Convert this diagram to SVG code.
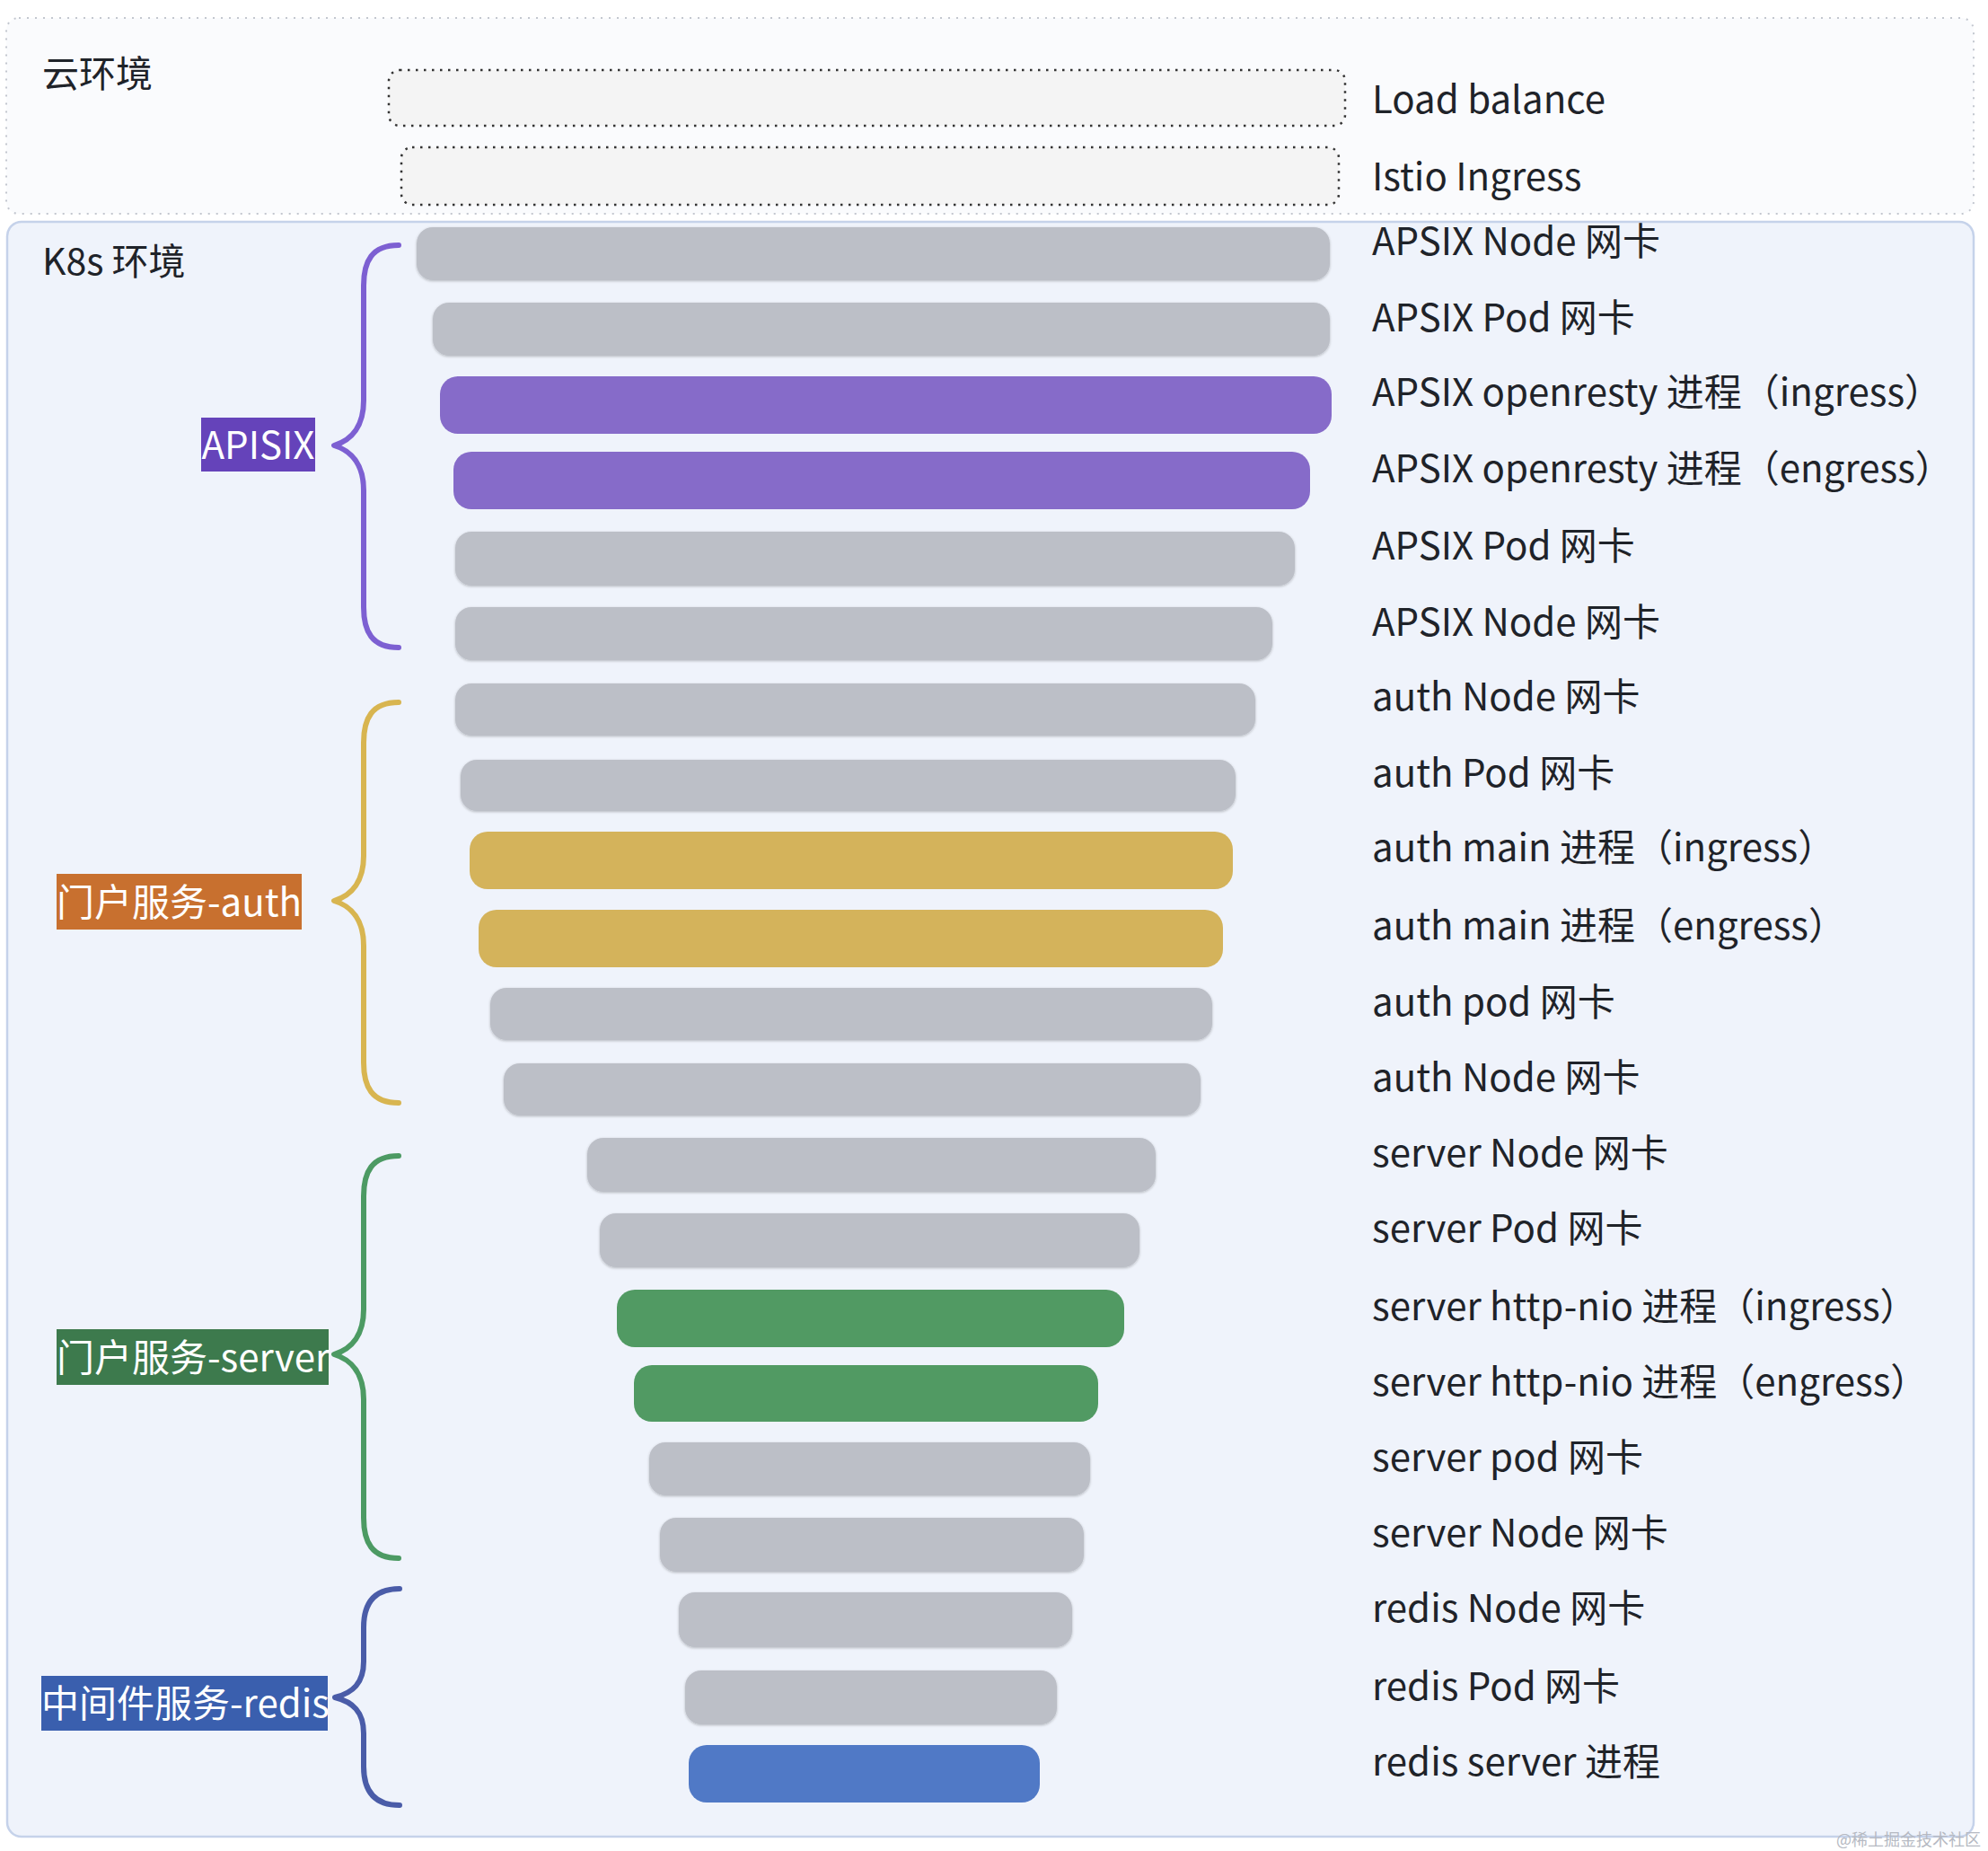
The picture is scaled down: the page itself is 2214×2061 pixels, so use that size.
<svg xmlns="http://www.w3.org/2000/svg" width="2214" height="2061" viewBox="0 0 2214 2061">
<defs>
<style>
text{font-family:"Noto Sans CJK SC","Noto Sans",sans-serif;}
.t{font-size:42px;fill:#1f2329;}
.title{font-size:41px;fill:#1f2329;}
.lab{font-size:42px;fill:#ffffff;}
.gray{fill:#bcbfc7;filter:url(#soft);}
.pur{fill:#866bc9;}
.gold{fill:#d4b35b;}
.green{fill:#519a63;}
.blue{fill:#5079c6;}
.brace{fill:none;stroke-width:6;stroke-linecap:round;stroke-linejoin:round;}
</style>
<filter id="soft" x="-5%" y="-20%" width="110%" height="140%">
<feGaussianBlur in="SourceAlpha" stdDeviation="1.5"/>
<feOffset dy="1"/>
<feComponentTransfer><feFuncA type="linear" slope="0.25"/></feComponentTransfer>
<feMerge><feMergeNode/><feMergeNode in="SourceGraphic"/></feMerge>
</filter>
</defs>
<rect x="0" y="0" width="2214" height="2061" fill="#ffffff"/>

<g id="cloud">
<rect x="7" y="20" width="2191" height="218" rx="14" fill="#fafbfd" stroke="#c3c7cf" stroke-width="2" stroke-dasharray="2 7"/>
<text class="title" x="47" y="97">云环境</text>
</g>
<g id="lb">
<rect x="433" y="78" width="1065" height="62" rx="12" fill="#f4f4f4" stroke="#333" stroke-width="2.5" stroke-dasharray="2.5 6.5"/>
<text class="t" x="1528" y="126">Load balance</text>
</g>
<g id="istio">
<rect x="447" y="164" width="1044" height="64" rx="12" fill="#f4f4f4" stroke="#333" stroke-width="2.5" stroke-dasharray="2.5 6.5"/>
<text class="t" x="1528" y="212">Istio Ingress</text>
</g>

<g id="k8s">
<rect x="8" y="247" width="2190" height="1798" rx="16" fill="#eff3fb" stroke="#c5d2ea" stroke-width="2.5"/>
<text class="title" x="47" y="306">K8s 环境</text>
</g>

<g id="connectors">
<path class="brace" stroke="#7d60d2" d="M444,273 C414,273 405,291 405,318 L405,446 C405,474 392,490 372,496 C392,502 405,518 405,546 L405,676 C405,703 414,721 444,721"/>
<path class="brace" stroke="#d8b550" d="M444,782 C414,782 405,800 405,827 L405,953 C405,981 392,997 372,1003 C392,1009 405,1025 405,1053 L405,1183 C405,1210 414,1228 444,1228"/>
<path class="brace" stroke="#4c9a63" d="M444,1287 C414,1287 405,1305 405,1332 L405,1458 C405,1486 392,1502 372,1508 C392,1514 405,1530 405,1558 L405,1690 C405,1717 414,1735 444,1735"/>
<path class="brace" stroke="#4a5ca8" d="M445,1769 C415,1769 405,1787 405,1812 L405,1850 C405,1874 393,1885 373,1890 C393,1895 405,1906 405,1930 L405,1967 C405,1992 415,2010 445,2010"/>
</g>

<g id="label-apisix">
<rect x="224" y="465" width="127" height="60" fill="#6543ba"/>
<text class="lab" x="287.5" y="511" text-anchor="middle">APISIX</text>
</g>
<g id="label-auth">
<rect x="63" y="973" width="273" height="62" fill="#c8702f"/>
<text class="lab" x="63" y="1020">门户服务-auth</text>
</g>
<g id="label-server">
<rect x="63" y="1480" width="303" height="62" fill="#3d7a4d"/>
<text class="lab" x="63" y="1527">门户服务-server</text>
</g>
<g id="label-redis">
<rect x="46" y="1866" width="319" height="61" fill="#3a5fae"/>
<text class="lab" x="46" y="1912">中间件服务-redis</text>
</g>

<g id="n1"><rect class="gray" x="464" y="253" width="1017" height="59" rx="18"/><text class="t" x="1528" y="284">APSIX Node 网卡</text></g>
<g id="n2"><rect class="gray" x="482" y="337" width="999" height="59" rx="18"/><text class="t" x="1528" y="369">APSIX Pod 网卡</text></g>
<g id="n3"><rect class="pur" x="490" y="419" width="993" height="64" rx="20"/><text class="t" x="1528" y="452">APSIX openresty 进程（ingress）</text></g>
<g id="n4"><rect class="pur" x="505" y="503" width="954" height="64" rx="20"/><text class="t" x="1528" y="537">APSIX openresty 进程（engress）</text></g>
<g id="n5"><rect class="gray" x="507" y="592" width="935" height="60" rx="18"/><text class="t" x="1528" y="623">APSIX Pod 网卡</text></g>
<g id="n6"><rect class="gray" x="507" y="676" width="910" height="59" rx="18"/><text class="t" x="1528" y="708">APSIX Node 网卡</text></g>
<g id="n7"><rect class="gray" x="507" y="761" width="891" height="58" rx="18"/><text class="t" x="1528" y="791">auth Node 网卡</text></g>
<g id="n8"><rect class="gray" x="513" y="846" width="863" height="57" rx="18"/><text class="t" x="1528" y="876">auth Pod 网卡</text></g>
<g id="n9"><rect class="gold" x="523" y="926" width="850" height="64" rx="20"/><text class="t" x="1528" y="959">auth main 进程（ingress）</text></g>
<g id="n10"><rect class="gold" x="533" y="1013" width="829" height="64" rx="20"/><text class="t" x="1528" y="1046">auth main 进程（engress）</text></g>
<g id="n11"><rect class="gray" x="546" y="1100" width="804" height="58" rx="18"/><text class="t" x="1528" y="1131">auth pod 网卡</text></g>
<g id="n12"><rect class="gray" x="561" y="1184" width="776" height="58" rx="18"/><text class="t" x="1528" y="1215">auth Node 网卡</text></g>
<g id="n13"><rect class="gray" x="654" y="1267" width="633" height="60" rx="18"/><text class="t" x="1528" y="1299">server Node 网卡</text></g>
<g id="n14"><rect class="gray" x="668" y="1351" width="601" height="60" rx="18"/><text class="t" x="1528" y="1383">server Pod 网卡</text></g>
<g id="n15"><rect class="green" x="687" y="1436" width="565" height="64" rx="20"/><text class="t" x="1528" y="1470">server http-nio 进程（ingress）</text></g>
<g id="n16"><rect class="green" x="706" y="1520" width="517" height="63" rx="20"/><text class="t" x="1528" y="1554">server http-nio 进程（engress）</text></g>
<g id="n17"><rect class="gray" x="723" y="1606" width="491" height="59" rx="18"/><text class="t" x="1528" y="1638">server pod 网卡</text></g>
<g id="n18"><rect class="gray" x="735" y="1690" width="472" height="60" rx="18"/><text class="t" x="1528" y="1722">server Node 网卡</text></g>
<g id="n19"><rect class="gray" x="756" y="1773" width="438" height="61" rx="18"/><text class="t" x="1528" y="1806">redis Node 网卡</text></g>
<g id="n20"><rect class="gray" x="763" y="1860" width="414" height="60" rx="18"/><text class="t" x="1528" y="1893">redis Pod 网卡</text></g>
<g id="n21"><rect class="blue" x="767" y="1943" width="391" height="64" rx="20"/><text class="t" x="1528" y="1977">redis server 进程</text></g>

<text x="2206" y="2055" text-anchor="end" font-size="18" fill="#b5b9c2">@稀土掘金技术社区</text>
</svg>
